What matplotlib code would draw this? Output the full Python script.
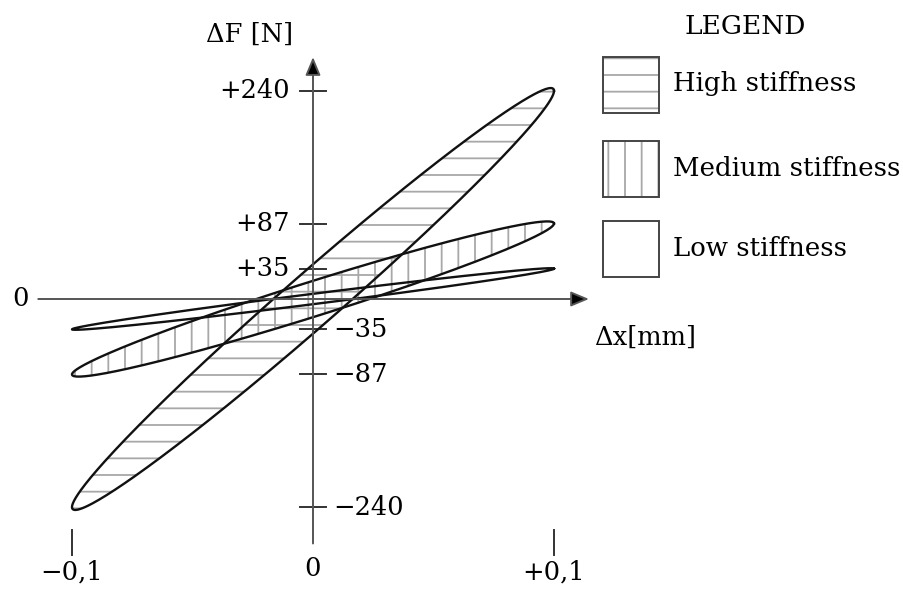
import numpy as np
import matplotlib
matplotlib.use('Agg')
from matplotlib import pyplot as plt
from matplotlib.patches import Rectangle

# loop data: displacement amplitude [mm], force at amplitude [N], force at x=0 (loop half-opening) [N]
loop_names = ['High stiffness', 'Medium stiffness', 'Low stiffness']
x_amp = [0.1, 0.1, 0.1]
f_amp = [240, 87, 35]
f_open = [40, 21, 6]
hatches = ['-', '|', None]

y_ticks = [240, 87, 35, -35, -87, -240]
y_tick_labels = ['+240', '+87', '+35', '\u221235', '\u221287', '\u2212240']
x_ticks = [-0.1, 0.1]
x_tick_labels = ['\u22120,1', '+0,1']

plt.rcParams['font.family'] = ['DejaVu Serif']
plt.rcParams['hatch.linewidth'] = 1.3

W, H = 904, 591
fig = plt.figure(figsize=(W / 100, H / 100), dpi=100)
ax = fig.add_axes([0, 0, 1, 1])
ax.axis('off')

# pixel layout of origin and scales
x0_px, y0_px = 313, 299
sx = 2410.0      # px per mm
sy = 0.867       # px per N
ax.set_xlim(-x0_px / sx, (W - x0_px) / sx)
ax.set_ylim(-(H - y0_px) / sy, y0_px / sy)


def px(x, y):
    # pixel (from top-left) -> figure fraction
    return x / W, 1 - y / H


fs = 18.5
axis_col = '#555555'
arrow_style = '-|>,head_length=0.55,head_width=0.23'

# axes with arrows
ax.annotate('', xy=(0, 279), xytext=(0, -282),
            arrowprops=dict(arrowstyle=arrow_style, lw=1.4,
                            mutation_scale=20, shrinkA=0, shrinkB=0,
                            fc='black', ec=axis_col))
ax.annotate('', xy=(0.1145, 0), xytext=(-0.114, 0),
            arrowprops=dict(arrowstyle=arrow_style, lw=1.4,
                            mutation_scale=20, shrinkA=0, shrinkB=0,
                            fc='black', ec=axis_col))

# y ticks
dx = 13 / sx
for v, lab in zip(y_ticks, y_tick_labels):
    ax.plot([-dx, dx], [v, v], color='#333333', lw=1.4)
    if v > 0:
        ax.text(-dx - 10 / sx, v, lab, ha='right', va='center', fontsize=fs)
    else:
        ax.text(dx + 7 / sx, v, lab, ha='left', va='center', fontsize=fs)

# x ticks
for v, lab in zip(x_ticks, x_tick_labels):
    ax.plot([v, v], [-(530 - y0_px) / sy, -(555 - y0_px) / sy], color='#333333', lw=1.4)
    ax.text(v, -(572 - y0_px) / sy, lab, ha='center', va='center', fontsize=fs)

ax.text(0, -(569 - y0_px) / sy, '0', ha='center', va='center', fontsize=fs)
ax.text(-(313 - 20) / sx, 0, '0', ha='center', va='center', fontsize=fs)

fig.text(*px(250, 34), '\u0394F [N]', ha='center', va='center', fontsize=fs)
fig.text(*px(645, 337), '\u0394x[mm]', ha='center', va='center', fontsize=fs)

# hysteresis loops
t = np.linspace(0, 2 * np.pi, 400)
for a, k, c, h in zip(x_amp, f_amp, f_open, hatches):
    xs = a * np.cos(t)
    fs_ = k * np.cos(t) + c * np.sin(t)
    if h:
        ax.fill(xs, fs_, facecolor='none', edgecolor='#a8a8a8', lw=0, hatch=h)
for a, k, c in zip(x_amp, f_amp, f_open):
    xs = a * np.cos(t)
    fs_ = k * np.cos(t) + c * np.sin(t)
    ax.plot(xs, fs_, color='#111111', lw=1.7)

# legend
fig.text(*px(745, 26), 'LEGEND', ha='center', va='center', fontsize=fs + 0.5)
box_tops = [57, 141, 221]
for top, name, h in zip(box_tops, loop_names, hatches):
    x, y = px(603, top + 56)
    fig.patches.append(Rectangle((x, y), 56 / W, 56 / H, transform=fig.transFigure,
                                 facecolor='none', edgecolor='#a8a8a8', lw=0, hatch=h))
    fig.patches.append(Rectangle((x, y), 56 / W, 56 / H, transform=fig.transFigure,
                                 facecolor='none', edgecolor='#444444', lw=1.4))
    fig.text(*px(673, top + 27), name, ha='left', va='center', fontsize=fs + 0.2)

fig.savefig('out.png', dpi=100)
